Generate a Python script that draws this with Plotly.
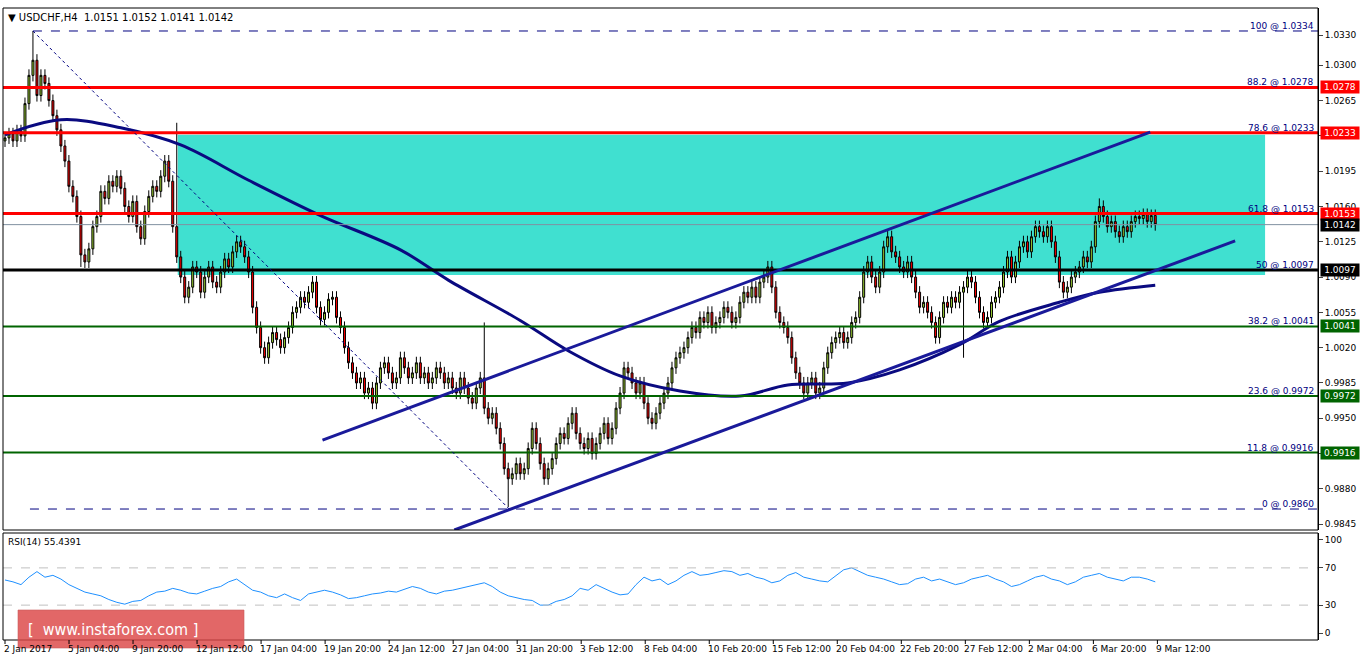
import numpy as np
import plotly.graph_objects as go

closes = [1.0228,1.0232,1.0225,1.0235,1.0230,1.0262,1.0290,1.0305,1.0270,1.0290,
1.0282,1.0265,1.0250,1.0236,1.0220,1.0205,1.0180,1.0170,1.0150,1.0112,
1.0105,1.0118,1.0140,1.0150,1.0175,1.0168,1.0185,1.0180,1.0190,1.0178,
1.0160,1.0150,1.0165,1.0140,1.0128,1.0155,1.0170,1.0180,1.0175,1.0190,
1.0205,1.0185,1.0140,1.0110,1.0090,1.0070,1.0080,1.0100,1.0095,1.0075,
1.0090,1.0100,1.0085,1.0080,1.0095,1.0108,1.0100,1.0115,1.0125,1.0120,
1.0110,1.0095,1.0060,1.0040,1.0020,1.0010,1.0025,1.0035,1.0028,1.0020,
1.0030,1.0040,1.0055,1.0060,1.0070,1.0065,1.0075,1.0085,1.0060,1.0048,
1.0055,1.0068,1.0070,1.0050,1.0040,1.0020,1.0005,0.9995,0.9985,0.9990,
0.9975,0.9980,0.9965,0.9985,1.0000,1.0005,0.9995,0.9985,0.9990,1.0010,
1.0000,0.9990,0.9995,1.0005,0.9990,0.9995,0.9985,0.9990,1.0000,0.9995,
0.9985,0.9990,0.9980,0.9975,0.9990,0.9980,0.9970,0.9965,0.9980,0.9990,
0.9960,0.9950,0.9955,0.9940,0.9925,0.9900,0.9890,0.9895,0.9905,0.9895,
0.9900,0.9920,0.9940,0.9925,0.9905,0.9890,0.9900,0.9910,0.9925,0.9935,
0.9930,0.9945,0.9955,0.9935,0.9925,0.9920,0.9930,0.9915,0.9925,0.9935,
0.9945,0.9930,0.9940,0.9960,0.9975,1.0000,0.9995,0.9985,0.9975,0.9985,
0.9965,0.9950,0.9945,0.9955,0.9965,0.9975,0.9985,1.0000,1.0010,1.0015,
1.0020,1.0030,1.0040,1.0035,1.0050,1.0045,1.0055,1.0040,1.0045,1.0050,
1.0060,1.0055,1.0045,1.0050,1.0065,1.0075,1.0070,1.0080,1.0070,1.0085,
1.0090,1.0100,1.0080,1.0055,1.0045,1.0040,1.0030,1.0010,0.9995,0.9985,
0.9975,0.9985,0.9990,0.9975,0.9980,1.0000,1.0015,1.0025,1.0030,1.0035,
1.0025,1.0030,1.0045,1.0050,1.0070,1.0095,1.0105,1.0090,1.0080,1.0095,
1.0120,1.0130,1.0115,1.0110,1.0100,1.0095,1.0105,1.0090,1.0075,1.0060,
1.0065,1.0055,1.0045,1.0030,1.0050,1.0065,1.0060,1.0070,1.0065,1.0075,
1.0080,1.0090,1.0085,1.0070,1.0055,1.0045,1.0050,1.0065,1.0070,1.0080,
1.0095,1.0110,1.0090,1.0105,1.0120,1.0125,1.0115,1.0130,1.0140,1.0135,
1.0130,1.0140,1.0125,1.0110,1.0085,1.0075,1.0080,1.0090,1.0095,1.0100,
1.0110,1.0105,1.0120,1.0145,1.0160,1.0150,1.0140,1.0145,1.0135,1.0130,
1.0140,1.0135,1.0145,1.0150,1.0148,1.0152,1.0145,1.0151,1.0142]
first_open = 1.0225
wick = 0.0006
special_high = {7: 1.0334, 43: 1.0243, 120: 1.0045, 274: 1.0168}
special_low = {126: 0.9862, 240: 1.0010, 19: 1.0100}

rsi = [57,55,52,60,66,60,62,58,52,48,44,42,40,36,33,31,34,35,40,44,45,48,46,43,42,45,48,50,55,58,
52,46,44,40,38,42,38,35,42,44,46,44,41,37,38,40,42,43,45,44,47,50,48,44,42,45,46,48,50,52,
54,50,44,40,38,36,35,30,30,34,36,40,48,46,52,48,44,41,42,52,60,56,58,52,56,62,66,62,63,65,
67,66,62,64,60,58,54,56,62,65,60,58,56,55,62,68,70,66,62,60,58,55,52,53,58,60,56,58,55,52,
54,58,60,62,58,55,50,52,56,60,62,58,56,52,55,60,62,64,60,58,56,60,60,58,55]

ma_idx = [0,14,29,44,61,79,99,111,129,141,154,169,184,196,211,224,239,249,264,274,288]
ma_val = [1.0231,1.0246,1.0238,1.0221,1.0186,1.0151,1.0117,1.0087,1.0047,1.0017,0.9992,
          0.9977,0.9972,0.9983,0.9985,0.9998,1.0023,1.0046,1.0065,1.0075,1.0082]

fib_levels = [(100, 1.0334), (88.2, 1.0278), (78.6, 1.0233), (61.8, 1.0153), (50, 1.0097),
              (38.2, 1.0041), (23.6, 0.9972), (11.8, 0.9916), (0, 0.9860)]
red_lines = [1.0278, 1.0233, 1.0153]
black_line = 1.0097
green_lines = [1.0041, 0.9972, 0.9916]
last_price = 1.0142
price_ticks = [1.0330,1.0300,1.0265,1.0230,1.0195,1.0160,1.0125,1.0090,1.0055,1.0020,
               0.9985,0.9950,0.9915,0.9880,0.9845]
time_labels = ["2 Jan 2017","5 Jan 04:00","9 Jan 20:00","12 Jan 12:00","17 Jan 04:00",
               "19 Jan 20:00","24 Jan 12:00","27 Jan 04:00","31 Jan 20:00","3 Feb 12:00",
               "8 Feb 04:00","10 Feb 20:00","15 Feb 12:00","20 Feb 04:00","22 Feb 20:00",
               "27 Feb 12:00","2 Mar 04:00","6 Mar 20:00","9 Mar 12:00"]
label_step = 16.03

n = len(closes)
x = list(range(n))
opens = [first_open] + closes[:-1]
highs = [special_high.get(i, max(o, c) + wick) for i, (o, c) in enumerate(zip(opens, closes))]
lows = [special_low.get(i, min(o, c) - wick) for i, (o, c) in enumerate(zip(opens, closes))]

W, H = 1362, 661
def px(v): return v / W
def py(v): return 1 - v / H

XR = [-0.5, 328.75]
fig = go.Figure()

fig.add_trace(go.Candlestick(x=x, open=opens, high=highs, low=lows, close=closes,
    increasing=dict(fillcolor="#9ACD32", line=dict(color="black", width=1)),
    decreasing=dict(fillcolor="#FF0000", line=dict(color="black", width=1)),
    whiskerwidth=0, xaxis="x", yaxis="y", showlegend=False, hoverinfo="skip"))
fig.add_trace(go.Scatter(x=ma_idx, y=ma_val, mode="lines", line=dict(color="#0A0A80", width=3, shape="spline"),
    xaxis="x", yaxis="y", showlegend=False, hoverinfo="skip"))
fig.add_trace(go.Scatter(x=np.linspace(0, n - 1, len(rsi)), y=rsi, mode="lines",
    line=dict(color="#1E90FF", width=1), xaxis="x2", yaxis="y2", showlegend=False, hoverinfo="skip"))

shapes = []
shapes.append(dict(type="rect", xref="x", yref="y", x0=43.25, x1=315.5, y0=1.0092, y1=1.0231,
                   fillcolor="#40E0D0", line=dict(width=0), layer="below"))
for v in red_lines:
    shapes.append(dict(type="line", xref="paper", yref="y", x0=px(3), x1=px(1318), y0=v, y1=v, line=dict(color="#FF0000", width=3)))
shapes.append(dict(type="line", xref="paper", yref="y", x0=px(3), x1=px(1318), y0=black_line, y1=black_line, line=dict(color="black", width=3)))
for v in green_lines:
    shapes.append(dict(type="line", xref="paper", yref="y", x0=px(3), x1=px(1318), y0=v, y1=v, line=dict(color="#006400", width=2)))
shapes.append(dict(type="line", xref="paper", yref="y", x0=px(3), x1=px(1318), y0=last_price, y1=last_price, line=dict(color="#8090A0", width=1)))
shapes.append(dict(type="line", xref="x", yref="y", x0=7, x1=XR[1], y0=1.0334, y1=1.0334, line=dict(color="#000080", width=1, dash="dash")))
shapes.append(dict(type="line", xref="x", yref="y", x0=6.25, x1=XR[1], y0=0.9860, y1=0.9860, line=dict(color="#000080", width=1, dash="dash")))
shapes.append(dict(type="line", xref="x", yref="y", x0=7, x1=126.25, y0=1.0334, y1=0.9860, line=dict(color="#000080", width=1, dash="dot")))
shapes.append(dict(type="line", xref="x", yref="y", x0=79.5, x1=286.75, y0=0.99284, y1=1.02338, line=dict(color="#1A1A9A", width=3)))
shapes.append(dict(type="line", xref="x", yref="y", x0=112.5, x1=308, y0=0.98392, y1=1.01258, line=dict(color="#1A1A9A", width=3)))
for v in [70, 30]:
    shapes.append(dict(type="line", xref="paper", yref="y2", x0=px(3), x1=px(1318), y0=v, y1=v, line=dict(color="#C0C0C0", width=1, dash="dash")))
shapes.append(dict(type="rect", xref="paper", yref="paper", x0=px(3), x1=px(1318), y0=py(530), y1=py(8), line=dict(color="black", width=1)))
shapes.append(dict(type="rect", xref="paper", yref="paper", x0=px(3), x1=px(1318), y0=py(640), y1=py(533), line=dict(color="black", width=1)))
shapes.append(dict(type="rect", xref="paper", yref="paper", x0=px(18), x1=px(244), y0=py(648), y1=py(610),
                   fillcolor="rgba(220,70,70,0.82)", line=dict(color="rgba(200,90,90,0.6)", width=1)))
for k in range(len(time_labels)):
    xi = k * label_step
    shapes.append(dict(type="line", xref="x2", yref="paper", x0=xi, x1=xi, y0=py(640), y1=py(644), line=dict(color="black", width=1)))

ann = []
ann.append(dict(text="▼ USDCHF,H4  1.0151 1.0152 1.0141 1.0142", xref="paper", yref="paper", x=px(6), y=py(10),
                xanchor="left", yanchor="top", showarrow=False, font=dict(size=10, color="black")))
ann.append(dict(text="RSI(14) 55.4391", xref="paper", yref="paper", x=px(6), y=py(535),
                xanchor="left", yanchor="top", showarrow=False, font=dict(size=9, color="black")))
for lvl, v in fib_levels:
    ann.append(dict(text=f"{lvl:g} @ {v:.4f}", xref="paper", yref="y", x=px(1316), y=v, xanchor="right", yanchor="bottom",
                    showarrow=False, font=dict(size=9, color="#000080"), yshift=-2))
badges = [(v, "#FF0000") for v in red_lines] + [(black_line, "black"), (last_price, "black")] + [(v, "#006400") for v in green_lines]
for v, col in badges:
    ann.append(dict(text=f"{v:.4f}", xref="paper", yref="y", x=px(1320), y=v, xanchor="left", yanchor="middle",
                    showarrow=False, font=dict(size=9, color="white"), bgcolor=col, borderpad=1, width=36))
for k, t in enumerate(time_labels):
    ann.append(dict(text=t, xref="x2", yref="paper", x=k * label_step, y=py(642), xanchor="left", yanchor="top",
                    showarrow=False, font=dict(size=9, color="black"), xshift=-3))
ann.append(dict(text="[  www.instaforex.com ]", xref="paper", yref="paper", x=px(26), y=py(629),
                xanchor="left", yanchor="middle",
                showarrow=False, font=dict(size=16, color="white", family="Liberation Sans Narrow, DejaVu Sans Condensed, Liberation Sans")))

fig.update_layout(
    width=W, height=H, margin=dict(l=0, r=0, t=0, b=0), paper_bgcolor="white", plot_bgcolor="white",
    font=dict(family="Tahoma, DejaVu Sans, Liberation Sans", size=9, color="black"),
    xaxis=dict(domain=[px(3), px(1318)], range=XR, showgrid=False, showticklabels=False, zeroline=False,
               rangeslider=dict(visible=False), fixedrange=True),
    yaxis=dict(domain=[py(530), py(8)], range=[0.98392, 1.03568], side="right", anchor="x", showgrid=False,
               zeroline=False, tickvals=price_ticks, ticktext=[f"{v:.4f}" for v in price_ticks],
               ticks="outside", ticklen=4, tickfont=dict(size=9), showline=True, linecolor="black"),
    xaxis2=dict(domain=[px(3), px(1318)], range=XR, showgrid=False, showticklabels=False, zeroline=False, anchor="y2"),
    yaxis2=dict(domain=[py(640), py(533)], range=[-7.5, 107.5], side="right", anchor="x2", showgrid=False,
                zeroline=False, tickvals=[0, 30, 70, 100], ticks="outside", ticklen=4, tickfont=dict(size=9),
                showline=True, linecolor="black"),
    shapes=shapes, annotations=ann,
)
fig.write_html("out.html", config={"displayModeBar": False}, post_script="document.body.style.margin='0';")
